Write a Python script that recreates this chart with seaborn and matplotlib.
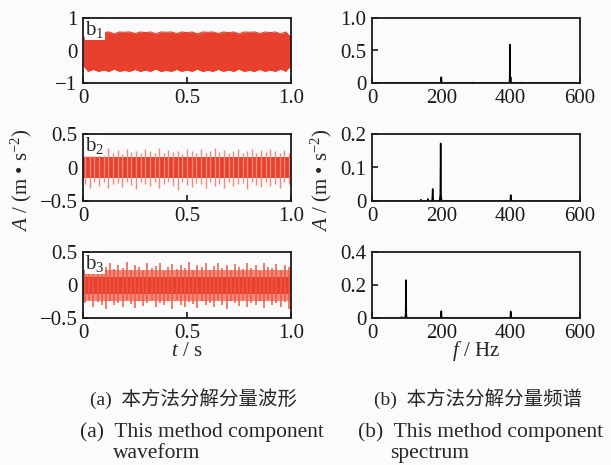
import numpy as np
import matplotlib
matplotlib.use("Agg")
import matplotlib.pyplot as plt
import seaborn as sns

# ---------------- data ----------------
# b1 waveform envelope (41 evenly spaced samples over 0..1 s)
wave1_upper = [0.30, 0.57, 0.52, 0.57, 0.55, 0.57, 0.51, 0.57, 0.56, 0.57,
               0.52, 0.57, 0.55, 0.57, 0.51, 0.57, 0.56, 0.57, 0.52, 0.57,
               0.55, 0.57, 0.51, 0.57, 0.56, 0.57, 0.52, 0.57, 0.55, 0.57,
               0.51, 0.57, 0.56, 0.57, 0.52, 0.57, 0.55, 0.57, 0.51, 0.57, 0.40]
wave1_lower = [-0.45, -0.64, -0.58, -0.64, -0.60, -0.64, -0.57, -0.64, -0.61, -0.64,
               -0.58, -0.64, -0.60, -0.64, -0.57, -0.64, -0.61, -0.64, -0.58, -0.64,
               -0.60, -0.64, -0.57, -0.64, -0.61, -0.64, -0.58, -0.64, -0.60, -0.64,
               -0.57, -0.64, -0.61, -0.64, -0.58, -0.64, -0.60, -0.64, -0.57, -0.64, -0.45]

# b2 waveform: core band and spike peaks (45 evenly spaced spikes)
wave2_core = [0.15, -0.155]
wave2_up = [0.24, 0.21, 0.27, 0.22, 0.25, 0.29, 0.21, 0.26, 0.20, 0.28,
            0.23, 0.25, 0.21, 0.27, 0.24, 0.22, 0.29, 0.21, 0.26, 0.23,
            0.25, 0.20, 0.28, 0.24, 0.22, 0.27, 0.21, 0.25, 0.29, 0.23,
            0.26, 0.21, 0.24, 0.28, 0.22, 0.25, 0.27, 0.21, 0.26, 0.23,
            0.28, 0.24, 0.22, 0.26, 0.21]
wave2_down = [-0.24, -0.30, -0.22, -0.27, -0.21, -0.31, -0.25, -0.23, -0.29, -0.21,
              -0.26, -0.32, -0.22, -0.25, -0.28, -0.21, -0.30, -0.24, -0.22, -0.27,
              -0.33, -0.21, -0.26, -0.29, -0.23, -0.25, -0.31, -0.22, -0.27, -0.24,
              -0.30, -0.21, -0.28, -0.25, -0.23, -0.32, -0.22, -0.26, -0.29, -0.21,
              -0.27, -0.24, -0.30, -0.22, -0.25]

# b3 waveform: core band, outer band and spike peaks (50 evenly spaced spikes)
wave3_core = [0.12, -0.13]
wave3_outer = [0.22, -0.25]
wave3_up = [0.22, 0.30, 0.25, 0.33, 0.21, 0.28, 0.34, 0.24, 0.30, 0.26,
            0.35, 0.23, 0.31, 0.27, 0.22, 0.33, 0.25, 0.29, 0.34, 0.21,
            0.28, 0.32, 0.24, 0.30, 0.26, 0.35, 0.22, 0.31, 0.27, 0.33,
            0.23, 0.29, 0.34, 0.25, 0.30, 0.22, 0.32, 0.27, 0.24, 0.33,
            0.26, 0.30, 0.21, 0.34, 0.28, 0.25, 0.32, 0.23, 0.31, 0.27]
wave3_down = [-0.28, -0.22, -0.33, -0.26, -0.30, -0.36, -0.24, -0.31, -0.27, -0.34,
              -0.22, -0.29, -0.35, -0.25, -0.32, -0.27, -0.23, -0.34, -0.28, -0.31,
              -0.25, -0.36, -0.22, -0.30, -0.33, -0.26, -0.29, -0.35, -0.24, -0.31,
              -0.27, -0.33, -0.22, -0.30, -0.36, -0.25, -0.28, -0.32, -0.23, -0.34,
              -0.27, -0.30, -0.25, -0.35, -0.22, -0.31, -0.28, -0.33, -0.26, -0.37]

# spectra (frequency Hz, amplitude)
spec1_f = [0, 198, 199, 200, 201, 202, 290, 291, 292, 350, 351, 352,
           395, 396, 397, 398, 399, 400, 402, 430, 431, 432, 500, 501, 502, 600]
spec1_a = [0, 0, 0, 0.09, 0, 0, 0, 0.008, 0, 0, 0.008, 0,
           0, 0.01, 0.02, 0.59, 0.02, 0.01, 0, 0, 0.008, 0, 0, 0.006, 0, 0]
spec2_f = [0, 140, 141, 142, 160, 161, 162, 173, 174, 175, 176, 177,
           195, 196, 197, 198, 199, 200, 203, 398, 399, 400, 401, 402, 600]
spec2_a = [0, 0, 0.004, 0, 0, 0.006, 0, 0, 0.01, 0.036, 0.01, 0,
           0, 0.01, 0.02, 0.172, 0.02, 0.005, 0, 0, 0, 0.018, 0, 0, 0]
spec3_f = [0, 84, 85, 86, 95, 96, 97, 98, 99, 100, 102,
           198, 199, 200, 201, 202, 398, 399, 400, 401, 402, 600]
spec3_a = [0, 0, 0.006, 0, 0, 0.01, 0.02, 0.23, 0.02, 0.005, 0,
           0, 0, 0.042, 0, 0, 0, 0, 0.04, 0, 0, 0]

t_ticks = [0, 0.5, 1.0]
t_ticklabels = ["0", "0.5", "1.0"]
f_ticks = [0, 200, 400, 600]
f_ticklabels = ["0", "200", "400", "600"]

wave_ylims = [(-1, 1), (-0.5, 0.5), (-0.5, 0.5)]
wave_yticks = [[-1, 0, 1], [-0.5, 0, 0.5], [-0.5, 0, 0.5]]
wave_yticklabels = [["\u22121", "0", "1"], ["\u22120.5", "0", "0.5"], ["\u22120.5", "0", "0.5"]]
spec_ylims = [(0, 1.0), (0, 0.2), (0, 0.4)]
spec_yticks = [[0, 0.5, 1.0], [0, 0.1, 0.2], [0, 0.2, 0.4]]
spec_yticklabels = [["0", "0.5", "1.0"], ["0", "0.1", "0.2"], ["0", "0.2", "0.4"]]
panel_labels = ["b$_1$", "b$_2$", "b$_3$"]

# ---------------- style ----------------
sns.set_theme(style="ticks")
plt.rcParams["font.family"] = ["Liberation Serif", "Noto Sans CJK SC"]
plt.rcParams["mathtext.fontset"] = "custom"
plt.rcParams["mathtext.rm"] = "Liberation Serif"
plt.rcParams["mathtext.it"] = "Liberation Serif:italic"
plt.rcParams["axes.unicode_minus"] = True

BG = "#fbfbfb"
RED = "#e8402c"
LIGHT = "#f3897b"
SPIKE = "#ec5a47"
FS = 15
FS_EN = 15.5

fig = plt.figure(figsize=(6.11, 4.65), dpi=100, facecolor=BG)
W, H = 611, 465

def add_ax(x0, x1, y0, y1):
    return fig.add_axes([x0 / W, 1 - y1 / H, (x1 - x0) / W, (y1 - y0) / H])

rows = [(18, 83), (134, 201), (252, 318)]
left_axes = [add_ax(83, 291, r0, r1) for r0, r1 in rows]
right_axes = [add_ax(372, 580, r0, r1) for r0, r1 in rows]

# waveforms
ax = left_axes[0]
t1 = np.linspace(0, 1, len(wave1_upper))
ax.fill_between(t1, wave1_lower, wave1_upper, color=RED, lw=0)
sns.lineplot(x=t1, y=wave1_upper, ax=ax, color=RED, lw=0.8, estimator=None)
sns.lineplot(x=t1, y=wave1_lower, ax=ax, color=RED, lw=0.8, estimator=None)

ax = left_axes[1]
t2 = np.linspace(0.01, 0.99, len(wave2_up))
ax.vlines(t2, 0, wave2_up, color=LIGHT, lw=1.0)
ax.vlines(t2, wave2_down, 0, color=LIGHT, lw=1.0)
ax.fill_between([0, 1], [wave2_core[1]] * 2, [wave2_core[0]] * 2, color=RED, lw=0)

ax = left_axes[2]
t3 = np.linspace(0.01, 0.99, len(wave3_up))
ax.fill_between([0, 1], [wave3_outer[1]] * 2, [wave3_outer[0]] * 2, color=LIGHT, lw=0)
ax.vlines(t3, 0, wave3_up, color=SPIKE, lw=1.1)
ax.vlines(t3, wave3_down, 0, color=SPIKE, lw=1.1)
ax.fill_between([0, 1], [wave3_core[1]] * 2, [wave3_core[0]] * 2, color=RED, lw=0)

for i, ax in enumerate(left_axes):
    ax.set_xlim(0, 1)
    ax.set_ylim(*wave_ylims[i])
    ax.set_xticks(t_ticks)
    ax.set_xticklabels(t_ticklabels)
    ax.set_yticks(wave_yticks[i])
    ax.set_yticklabels(wave_yticklabels[i])
    ax.text(0.012, 0.985, panel_labels[i], transform=ax.transAxes, ha="left", va="top",
            fontsize=FS, bbox=dict(facecolor="white", edgecolor="none", pad=0.3), zorder=5)

# spectra
specs = [(spec1_f, spec1_a), (spec2_f, spec2_a), (spec3_f, spec3_a)]
for i, ax in enumerate(right_axes):
    f, a = specs[i]
    sns.lineplot(x=f, y=a, ax=ax, color="black", lw=1.1, sort=False, estimator=None)
    ax.set_xlim(0, 600)
    ax.set_ylim(*spec_ylims[i])
    ax.set_xticks(f_ticks)
    ax.set_xticklabels(f_ticklabels)
    ax.set_yticks(spec_yticks[i])
    ax.set_yticklabels(spec_yticklabels[i])

for ax in left_axes + right_axes:
    ax.set_facecolor(BG)
    for s in ax.spines.values():
        s.set_visible(True)
        s.set_linewidth(1.3)
        s.set_color("#1a1a1a")
    ax.tick_params(direction="in", length=4, width=1.2, labelsize=FS,
                   colors="#1a1a1a", top=False, right=False)
    ax.tick_params(axis="x", pad=4)
    ax.tick_params(axis="y", pad=4)
    ax.set_xlabel("")
    ax.set_ylabel("")

# axis titles
fig.text(21 / W, 1 - 180 / H, "$A$ / (m \u2022 s$^{-2}$)", rotation=90, ha="center", va="center", fontsize=FS)
fig.text(321 / W, 1 - 180 / H, "$A$ / (m \u2022 s$^{-2}$)", rotation=90, ha="center", va="center", fontsize=FS)
fig.text(187 / W, 1 - 351 / H, "$t$ / s", ha="center", va="center", fontsize=FS)
fig.text(476 / W, 1 - 351 / H, "$f$ / Hz", ha="center", va="center", fontsize=FS)

# captions
fig.text(194 / W, 1 - 399 / H, "(a)  本方法分解分量波形", ha="center", va="center", fontsize=14)
fig.text(478 / W, 1 - 399 / H, "(b)  本方法分解分量频谱", ha="center", va="center", fontsize=14)
fig.text(80 / W, 1 - 432 / H, "(a)  This method component", ha="left", va="center", fontsize=FS_EN)
fig.text(113 / W, 1 - 453 / H, "waveform", ha="left", va="center", fontsize=FS_EN)
fig.text(358 / W, 1 - 432 / H, "(b)  This method component", ha="left", va="center", fontsize=FS_EN)
fig.text(390 / W, 1 - 453 / H, "spectrum", ha="left", va="center", fontsize=FS_EN)

fig.savefig("out.png", dpi=100, facecolor=BG)
